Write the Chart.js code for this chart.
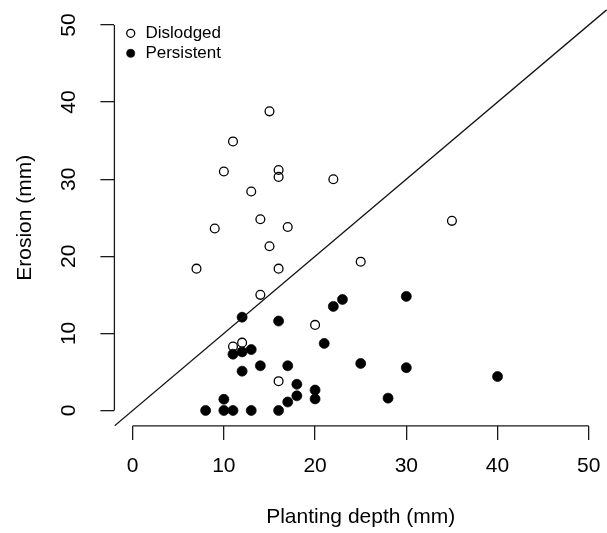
<!DOCTYPE html>
<html>
<head>
<meta charset="utf-8">
<script src="https://cdn.jsdelivr.net/npm/chart.js@4.4.1/dist/chart.umd.min.js"></script>
<style>
  html, body { margin: 0; padding: 0; background: #ffffff; overflow: hidden; }
  #wrap { width: 607px; height: 533px; position: relative; }
</style>
</head>
<body>
<div id="wrap"><canvas id="c"></canvas></div>
<script>
// ---- data ----
const seriesLabels = ['Dislodged', 'Persistent'];
const xTitle = 'Planting depth (mm)';
const yTitle = 'Erosion (mm)';
const xTicks = [0, 10, 20, 30, 40, 50];
const yTicks = [0, 10, 20, 30, 40, 50];
const axisMin = -2;
const axisMax = 52;

const dislodgedDepth   = [15, 11, 10, 16, 16, 22, 13, 14, 9, 17, 15, 7, 16, 14, 20, 35, 25, 11, 12, 16];
const dislodgedErosion = [38.8, 34.9, 31.0, 31.2, 30.3, 30.0, 28.4, 24.8, 23.6, 23.8, 21.3, 18.4, 18.4, 15.0, 11.1, 24.6, 19.3, 8.3, 8.8, 3.8];

const persistentDepth   = [12, 16, 22, 23, 30, 21, 25, 30, 20, 20, 28, 40, 11, 12, 13, 14, 12, 17, 18, 18, 17, 10, 8, 10, 11, 13, 16];
const persistentErosion = [12.1, 11.6, 13.5, 14.4, 14.8, 8.7, 6.1, 5.55, 2.65, 1.5, 1.6, 4.4, 7.3, 7.6, 7.9, 5.8, 5.1, 5.8, 3.4, 1.9, 1.1, 1.45, 0, 0, 0, 0, 0];

// ---- build ----
const toPts = (xs, ys) => xs.map((x, i) => ({ x: x, y: ys[i] }));
const FONT = "'Liberation Sans', Arial, Helvetica, sans-serif";
const INK = '#000000';

const rAxes = {
  id: 'rAxes',
  afterDatasetsDraw(chart) {
    const { ctx, chartArea, scales } = chart;
    const xs = scales.x, ys = scales.y;
    ctx.save();
    ctx.strokeStyle = '#1a1a1a';
    ctx.lineWidth = 1.3;
    ctx.lineCap = 'butt';
    ctx.beginPath();
    ctx.moveTo(xs.getPixelForValue(xTicks[0]), chartArea.bottom);
    ctx.lineTo(xs.getPixelForValue(xTicks[xTicks.length - 1]), chartArea.bottom);
    ctx.moveTo(chartArea.left, ys.getPixelForValue(yTicks[0]));
    ctx.lineTo(chartArea.left, ys.getPixelForValue(yTicks[yTicks.length - 1]));
    ctx.stroke();
    ctx.restore();
  }
};

const layoutFix = {
  id: 'layoutFix',
  afterLayout(chart) {
    const ca = chart.chartArea;
    const xs = chart.scales.x;
    if (ca.right < chart.width) {
      ca.right = chart.width;
      ca.width = ca.right - ca.left;
      xs.right = chart.width;
      xs.width = xs.right - xs.left;
      xs.configure();
    }
    const lg = chart.legend;
    if (!lg) return;
    const w = lg.width, h = lg.height;
    lg.left = ca.left + 7.1;
    lg.top = ca.top + 12.2;
    lg.right = lg.left + w;
    lg.bottom = lg.top + h;
  }
};

new Chart(document.getElementById('c'), {
  type: 'scatter',
  data: {
    datasets: [
      {
        label: seriesLabels[0],
        data: toPts(dislodgedDepth, dislodgedErosion),
        pointStyle: 'circle',
        pointRadius: 4.4,
        pointBorderWidth: 1.3,
        borderWidth: 1.3,
        pointBackgroundColor: 'rgba(0,0,0,0)',
        backgroundColor: 'rgba(0,0,0,0)',
        pointBorderColor: INK,
        borderColor: INK,
        order: 2
      },
      {
        label: seriesLabels[1],
        data: toPts(persistentDepth, persistentErosion),
        pointStyle: 'circle',
        pointRadius: 5,
        pointBorderWidth: 0.7,
        borderWidth: 0.7,
        pointBackgroundColor: INK,
        backgroundColor: INK,
        pointBorderColor: INK,
        borderColor: INK,
        order: 1
      },
      {
        type: 'line',
        label: 'y = x',
        data: [{ x: axisMin, y: axisMin }, { x: axisMax, y: axisMax }],
        borderColor: '#111111',
        borderWidth: 1.3,
        pointRadius: 0,
        showLine: true,
        fill: false,
        order: 0
      }
    ]
  },
  options: {
    responsive: true,
    maintainAspectRatio: false,
    devicePixelRatio: 1,
    animation: false,
    events: [],
    layout: { padding: { top: 9.6, right: 0, bottom: 0, left: 0 } },
    plugins: {
      tooltip: { enabled: false },
      legend: {
        display: true,
        position: 'chartArea',
        align: 'start',
        labels: {
          usePointStyle: true,
          boxWidth: 12.4,
          boxHeight: 5.66,
          padding: 3,
          color: INK,
          font: { family: FONT, size: 17, lineHeight: 1.2 },
          filter: (item) => item.datasetIndex < 2,
          sort: (a, b) => a.datasetIndex - b.datasetIndex
        }
      }
    },
    scales: {
      x: {
        type: 'linear',
        position: 'bottom',
        min: axisMin,
        max: axisMax,
        afterBuildTicks: (s) => { s.ticks = xTicks.map(v => ({ value: v })); },
        afterFit: (s) => { s.height = 107.1; s.paddingLeft = 0; s.paddingRight = 0; s.paddingTop = 0; s.paddingBottom = 0; },
        border: { display: false },
        grid: { drawOnChartArea: false, drawTicks: true, tickLength: 14, color: '#1a1a1a', lineWidth: 1.3 },
        ticks: {
          color: INK,
          font: { family: FONT, size: 21, lineHeight: '53.6px' },
          padding: 0,
          maxRotation: 0,
          minRotation: 0,
          autoSkip: false
        },
        title: {
          display: true,
          text: xTitle,
          color: INK,
          font: { family: FONT, size: 21, lineHeight: 1.2 },
          padding: { top: 0, bottom: 3.4 }
        }
      },
      y: {
        type: 'linear',
        position: 'left',
        min: axisMin,
        max: axisMax,
        afterBuildTicks: (s) => { s.ticks = yTicks.map(v => ({ value: v })); },
        afterFit: (s) => { s.width = 114.4; s.paddingLeft = 0; s.paddingRight = 0; s.paddingTop = 0; s.paddingBottom = 0; },
        border: { display: false },
        grid: { drawOnChartArea: false, drawTicks: true, tickLength: 14, color: '#1a1a1a', lineWidth: 1.3 },
        ticks: {
          color: INK,
          font: { family: FONT, size: 21, lineHeight: 1.2 },
          padding: 19.7,
          minRotation: 90,
          maxRotation: 90,
          crossAlign: 'center',
          autoSkip: false
        },
        title: {
          display: true,
          text: yTitle,
          color: INK,
          font: { family: FONT, size: 21, lineHeight: 1.2 },
          padding: { top: 12.4, bottom: 0 }
        }
      }
    }
  },
  plugins: [rAxes, layoutFix]
});
</script>
</body>
</html>
